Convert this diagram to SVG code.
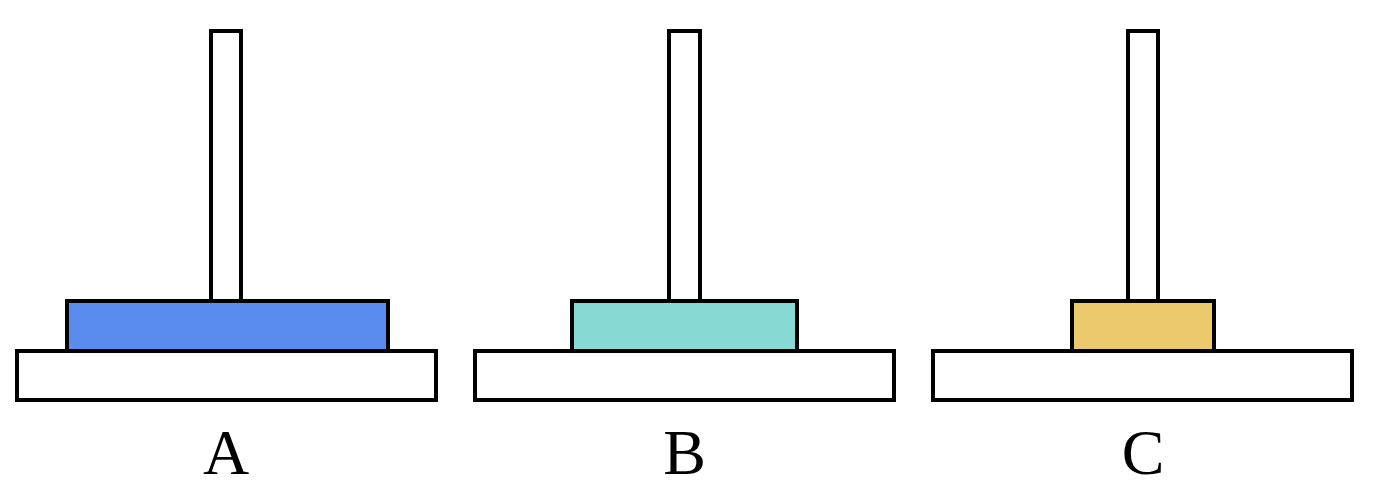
<svg xmlns="http://www.w3.org/2000/svg" width="1378" height="500" viewBox="0 0 1378 500">
<style>
.s{stroke:#000;stroke-width:4}
.w{fill:#fff}
.lbl{font-family:"Liberation Serif","Times New Roman",serif;font-size:64px;fill:#000;text-anchor:middle}
</style>
<rect x="0" y="0" width="1378" height="500" fill="#fff"/>
<g id="towerA">
<rect class="s w" x="211" y="31" width="30" height="270"/>
<rect class="s" x="67" y="301" width="321" height="50" fill="#5a8cf0"/>
<rect class="s w" x="17" y="351" width="419" height="49"/>
<text class="lbl" x="226" y="474">A</text>
</g>
<g id="towerB">
<rect class="s w" x="669" y="31" width="31" height="270"/>
<rect class="s" x="572" y="301" width="225" height="50" fill="#86dad3"/>
<rect class="s w" x="475" y="351" width="419" height="49"/>
<text class="lbl" x="684.5" y="474">B</text>
</g>
<g id="towerC">
<rect class="s w" x="1128" y="31" width="30" height="270"/>
<rect class="s" x="1072" y="301" width="142" height="50" fill="#edc96d"/>
<rect class="s w" x="933" y="351" width="419" height="49"/>
<text class="lbl" x="1143" y="474">C</text>
</g>
<g id="connectors"/>
</svg>
